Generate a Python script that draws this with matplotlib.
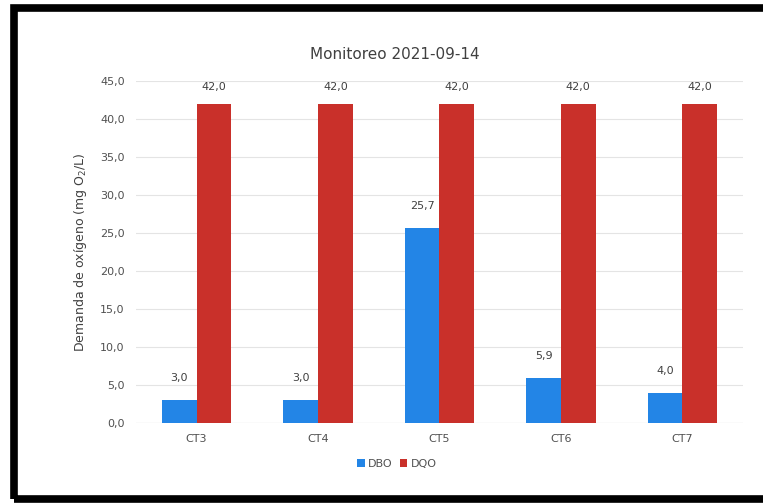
import matplotlib.pyplot as plt
import numpy as np
from matplotlib.patches import Rectangle

categories = ['CT3', 'CT4', 'CT5', 'CT6', 'CT7']
dbo = [3.0, 3.0, 25.7, 5.9, 4.0]
dqo = [42.0, 42.0, 42.0, 42.0, 42.0]
series_names = ['DBO', 'DQO']
colors = ['#2385e6', '#c9302a']

fig = plt.figure(figsize=(7.63, 5.03), dpi=100)
ax = fig.add_axes([0.178, 0.159, 0.796, 0.680])

x = np.arange(len(categories))
w = 0.285
b1 = ax.bar(x - w / 2, dbo, w, color=colors[0], label=series_names[0], zorder=3)
b2 = ax.bar(x + w / 2, dqo, w, color=colors[1], label=series_names[1], zorder=3)

def fmt(v):
    return f'{v:.1f}'.replace('.', ',')

# value labels above each bar
for bars, off in ((b1, 2.2), (b2, 1.5)):
    for r in bars:
        ax.text(r.get_x() + r.get_width() / 2, r.get_height() + off, fmt(r.get_height()),
                ha='center', va='bottom', fontsize=8, color='#404040')

ax.set_xlim(-0.5, len(categories) - 0.5)
ax.set_ylim(0, 45)
ax.set_yticks(np.arange(0, 46, 5))
ax.set_yticklabels([fmt(v) for v in np.arange(0, 46, 5)])
ax.set_xticks(x)
ax.set_xticklabels(categories)
ax.tick_params(length=0, labelsize=8, colors='#505050', pad=8)
ax.yaxis.grid(True, color='#e4e4e4', linewidth=0.8, zorder=0)
for s in ax.spines.values():
    s.set_visible(False)
ax.axhline(0, color='#d0d0d0', linewidth=0.8, zorder=2)

ax.set_ylabel('Demanda de oxígeno (mg O$_2$/L)', fontsize=9, color='#404040', labelpad=8)
fig.text(0.518, 0.891, 'Monitoreo 2021-09-14', fontsize=11, color='#404040',
         ha='center', va='center')

ax.legend(loc='upper center', bbox_to_anchor=(0.43, -0.075), ncol=2, frameon=False,
          fontsize=8, handlelength=0.7, handleheight=0.7, columnspacing=0.6,
          handletextpad=0.3, labelcolor='#505050')

# black frame around the chart (right side runs off the picture)
fig.patches.append(Rectangle((0.0183, 0.008), 1.1, 0.977, transform=fig.transFigure,
                             fill=False, edgecolor='black', linewidth=5.5))

fig.savefig('out.png', dpi=100)
